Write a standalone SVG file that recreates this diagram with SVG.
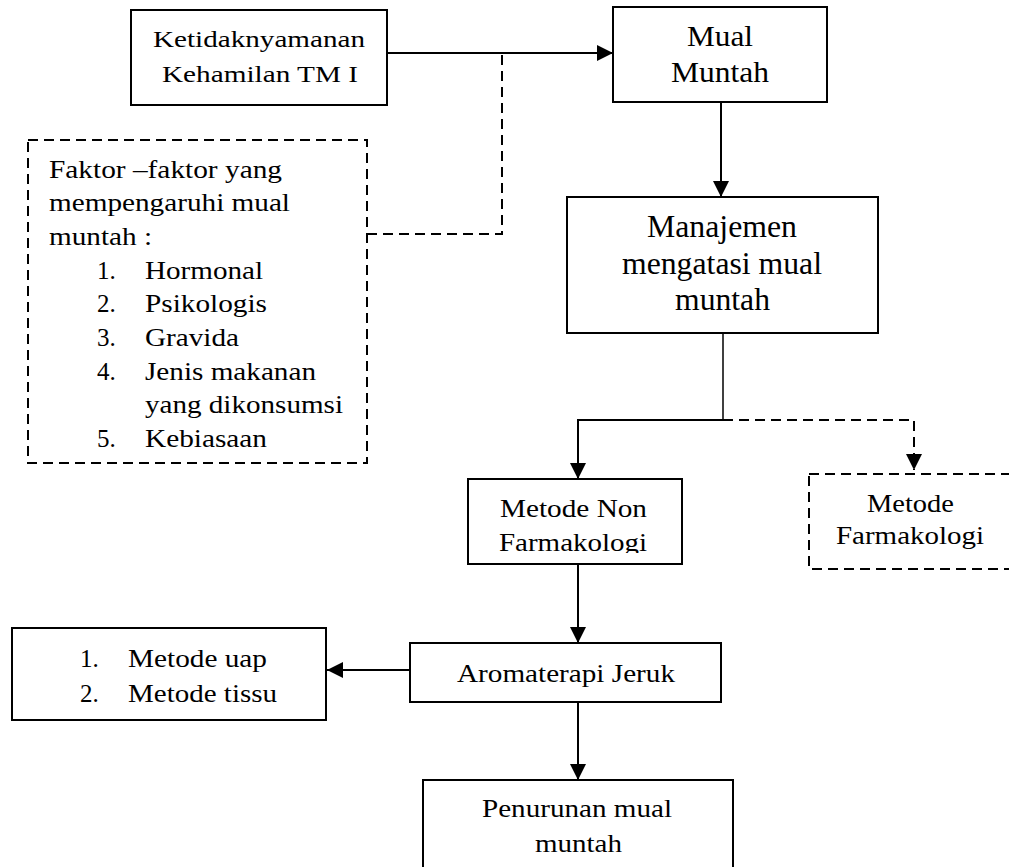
<svg xmlns="http://www.w3.org/2000/svg" width="1009" height="867" viewBox="0 0 1009 867" font-family="Liberation Serif">
<style>
.box{fill:#fff;stroke:#000;stroke-width:2}
.dbox{fill:#fff;stroke:#000;stroke-width:2;stroke-dasharray:10 6}
.c{fill:none;stroke:#000;stroke-width:2}
.cd{fill:none;stroke:#000;stroke-width:2;stroke-dasharray:10 6}
</style>
<defs>
<marker id="ah" markerUnits="userSpaceOnUse" markerWidth="16" markerHeight="16" viewBox="0 0 14 14" refX="14" refY="7" orient="auto">
<path d="M0,0 L14,7 L0,14 Z" fill="#000"/>
</marker>
<clipPath id="clipNon"><rect x="468" y="479" width="214" height="74"/></clipPath>
</defs>
<rect width="1009" height="867" fill="#fff"/>
<g id="connectors">
<path class="c" d="M387,53 H613" marker-end="url(#ah)"/>
<path class="cd" d="M502,55 V234 H367"/>
<path class="c" d="M721,102 V197" marker-end="url(#ah)"/>
<path class="c" style="stroke-width:1.5" d="M723,333 V420"/>
<path class="c" d="M723,420 H578 V479" marker-end="url(#ah)"/>
<path class="cd" d="M723,420 H914 V470" marker-end="url(#ah)"/>
<path class="c" d="M578,564 V643" marker-end="url(#ah)"/>
<path class="c" d="M410,670 H327" marker-end="url(#ah)"/>
<path class="c" d="M578,702 V780" marker-end="url(#ah)"/>
</g>
<g id="ketidaknyamanan" font-family="Liberation Serif">
<rect class="box" x="131" y="10" width="256" height="95"/>
<text font-size="24" x="153" y="47" textLength="212" lengthAdjust="spacingAndGlyphs">Ketidaknyamanan</text>
<text font-size="24" x="162" y="82" textLength="196" lengthAdjust="spacingAndGlyphs">Kehamilan TM I</text>
</g>
<g id="mual" font-family="Liberation Serif">
<rect class="box" x="613" y="7" width="214" height="95"/>
<text font-size="30" x="687" y="46" textLength="66" lengthAdjust="spacingAndGlyphs">Mual</text>
<text font-size="30" x="671" y="82" textLength="98" lengthAdjust="spacingAndGlyphs">Muntah</text>
</g>
<g id="faktor" font-family="Liberation Serif">
<rect class="dbox" x="28" y="140" width="339" height="323"/>
<text font-size="25" x="49" y="178" textLength="233" lengthAdjust="spacingAndGlyphs">Faktor –faktor yang</text>
<text font-size="25" x="49" y="211" textLength="241" lengthAdjust="spacingAndGlyphs">mempengaruhi mual</text>
<text font-size="25" x="49" y="245" textLength="103" lengthAdjust="spacingAndGlyphs">muntah :</text>
<text font-size="25" x="97" y="279">1.</text>
<text font-size="25" x="145" y="279" textLength="118" lengthAdjust="spacingAndGlyphs">Hormonal</text>
<text font-size="25" x="97" y="312">2.</text>
<text font-size="25" x="145" y="312" textLength="122" lengthAdjust="spacingAndGlyphs">Psikologis</text>
<text font-size="25" x="97" y="346">3.</text>
<text font-size="25" x="145" y="346" textLength="94" lengthAdjust="spacingAndGlyphs">Gravida</text>
<text font-size="25" x="97" y="380">4.</text>
<text font-size="25" x="145" y="380" textLength="171" lengthAdjust="spacingAndGlyphs">Jenis makanan</text>
<text font-size="25" x="145" y="413" textLength="198" lengthAdjust="spacingAndGlyphs">yang dikonsumsi</text>
<text font-size="25" x="97" y="447">5.</text>
<text font-size="25" x="145" y="447" textLength="122" lengthAdjust="spacingAndGlyphs">Kebiasaan</text>
</g>
<g id="manajemen" font-family="Liberation Serif">
<rect class="box" x="567" y="197" width="311" height="136"/>
<text font-size="31" x="647" y="237" textLength="150" lengthAdjust="spacingAndGlyphs">Manajemen</text>
<text font-size="31" x="622" y="274" textLength="200" lengthAdjust="spacingAndGlyphs">mengatasi mual</text>
<text font-size="31" x="675" y="310" textLength="95" lengthAdjust="spacingAndGlyphs">muntah</text>
</g>
<g id="nonfarmakologi" font-family="Liberation Serif">
<rect class="box" x="468" y="479" width="214" height="85"/>
<g clip-path="url(#clipNon)">
<text font-size="26" x="500" y="517" textLength="147" lengthAdjust="spacingAndGlyphs">Metode Non</text>
<text font-size="26" x="499" y="551" textLength="148" lengthAdjust="spacingAndGlyphs">Farmakologi</text>
</g>
</g>
<g id="farmakologi" font-family="Liberation Serif">
<rect class="dbox" x="809" y="474" width="215" height="95"/>
<text font-size="25" x="867" y="512" textLength="87" lengthAdjust="spacingAndGlyphs">Metode</text>
<text font-size="25" x="836" y="544" textLength="148" lengthAdjust="spacingAndGlyphs">Farmakologi</text>
</g>
<g id="aromaterapi" font-family="Liberation Serif">
<rect class="box" x="410" y="643" width="311" height="59"/>
<text font-size="26" x="457" y="682" textLength="218" lengthAdjust="spacingAndGlyphs">Aromaterapi Jeruk</text>
</g>
<g id="metode-list" font-family="Liberation Serif">
<rect class="box" x="12" y="628" width="314" height="92"/>
<text font-size="25" x="80" y="667">1.</text>
<text font-size="25" x="128" y="667" textLength="139" lengthAdjust="spacingAndGlyphs">Metode uap</text>
<text font-size="25" x="80" y="702">2.</text>
<text font-size="25" x="128" y="702" textLength="149" lengthAdjust="spacingAndGlyphs">Metode tissu</text>
</g>
<g id="penurunan" font-family="Liberation Serif">
<rect class="box" x="423" y="780" width="310" height="100"/>
<text font-size="25" x="482" y="817" textLength="190" lengthAdjust="spacingAndGlyphs">Penurunan mual</text>
<text font-size="25" x="535" y="852" textLength="87" lengthAdjust="spacingAndGlyphs">muntah</text>
</g>
</svg>
